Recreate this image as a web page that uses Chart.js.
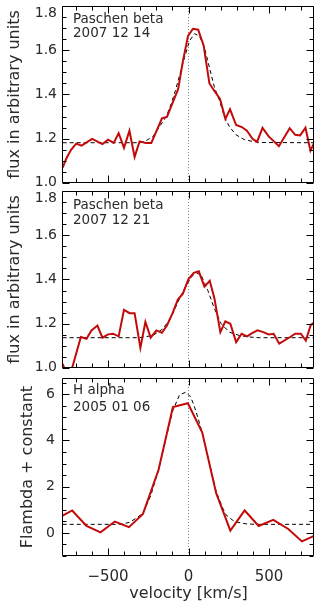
<!DOCTYPE html>
<html>
<head>
<meta charset="utf-8">
<script src="https://cdn.jsdelivr.net/npm/chart.js@4.4.1/dist/chart.umd.min.js"></script>
<style>
  html, body { margin: 0; padding: 0; background: #fff; }
  #wrap { position: relative; width: 315px; height: 606px; }
  .panel { position: absolute; left: 0; width: 315px; }
  canvas { display: block; }
</style>
</head>
<body>
<div id="wrap">
  <div class="panel" style="top:0"><canvas id="c1" width="315" height="187"></canvas></div>
  <div class="panel" style="top:187px"><canvas id="c2" width="315" height="185"></canvas></div>
  <div class="panel" style="top:372px"><canvas id="c3" width="315" height="234"></canvas></div>
</div>
<script>
// Paschen beta, 2007 12 14
const pb14Vel = [-782, -760, -730, -698, -665, -599, -535, -500, -465, -434, -401, -367, -335, -304, -266, -231,
  -165, -134, -97, -64, -35, -3, 28, 60, 94, 130, 161, 196, 229, 258, 296, 331, 363, 398, 426, 460, 497,
  562, 629, 663, 694, 727, 758, 781];
const pb14Flux = [1.07, 1.11, 1.15, 1.178, 1.169, 1.199, 1.176, 1.196, 1.181, 1.225, 1.159, 1.236, 1.118, 1.188, 1.181, 1.181,
  1.292, 1.299, 1.366, 1.425, 1.55, 1.665, 1.697, 1.693, 1.622, 1.45, 1.416, 1.38, 1.29, 1.333, 1.262, 1.253, 1.236, 1.2, 1.186, 1.249, 1.212,
  1.166, 1.248, 1.218, 1.215, 1.25, 1.146, 1.181];
const pb14FitVel = [-782, -300, -262, -221, -180, -138, -107, -81, -56, -25, 6, 37, 68, 99, 130, 161, 192, 223, 254, 295, 347, 398, 450, 781];
const pb14Fit = [1.182, 1.182, 1.192, 1.21, 1.255, 1.3, 1.359, 1.419, 1.485, 1.567, 1.642, 1.675, 1.664, 1.612, 1.522, 1.433, 1.374, 1.3, 1.255, 1.218, 1.196, 1.188, 1.183, 1.182];

// Paschen beta, 2007 12 21
const pb21Vel = [-782, -760, -735, -669, -634, -603, -566, -535, -500, -469, -434, -401, -366, -335, -299, -268, -235, -200,
  -165, -134, -101, -66, -35, 0, 33, 64, 99, 132, 161, 198, 229, 260, 296, 330, 364, 395, 429, 465, 498, 529, 564,
  632, 663, 698, 729, 760, 781];
const pb21Flux = [1.019, 0.975, 0.97, 1.14, 1.132, 1.17, 1.192, 1.137, 1.152, 1.155, 1.143, 1.263, 1.248, 1.248, 1.091, 1.208, 1.137, 1.17,
  1.159, 1.192, 1.245, 1.309, 1.336, 1.402, 1.43, 1.437, 1.368, 1.394, 1.315, 1.162, 1.211, 1.2, 1.117, 1.155, 1.143, 1.158, 1.17, 1.162, 1.152, 1.155, 1.11,
  1.14, 1.155, 1.155, 1.124, 1.195, 1.205];
const pb21FitVel = [-782, -304, -221, -159, -107, -66, -25, 17, 48, 79, 120, 161, 203, 254, 316, 378, 440, 781];
const pb21Fit = [1.137, 1.137, 1.147, 1.177, 1.23, 1.298, 1.358, 1.411, 1.431, 1.419, 1.351, 1.268, 1.2, 1.162, 1.147, 1.14, 1.137, 1.137];

// H alpha, 2005 01 06
const haVel = [-782, -723, -634, -547, -458, -370, -283, -186, -97, -4, 85, 172, 260, 349, 436, 527, 620, 705, 781];
const haFlux = [0.75, 0.97, 0.3, 0.02, 0.49, 0.25, 0.82, 2.73, 5.44, 5.61, 4.35, 1.72, 0.1, 0.97, 0.3, 0.56, 0.17, -0.37, -0.13];
const haFitVel = [-782, -450, -407, -366, -324, -283, -235, -186, -140, -97, -56, -19, 12, 33, 60, 89, 130, 172, 213, 233, 285, 357, 420, 781];
const haFit = [0.37, 0.37, 0.39, 0.46, 0.64, 0.85, 1.6, 2.73, 4.1, 5.3, 5.97, 6.08, 5.9, 5.54, 4.95, 4.24, 3.0, 1.79, 1.07, 0.78, 0.49, 0.39, 0.37, 0.37];

const fluxTicks = [1.0, 1.2, 1.4, 1.6, 1.8];
const haTicks = [0, 2, 4, 6];
const velTicks = [-500, 0, 500];

const FONT = "'DejaVu Sans', sans-serif";
const INK = '#2a2a2a';

// IDL style frame with inward ticks on all four sides
const frameTicks = {
  id: 'frameTicks',
  afterDatasetsDraw(chart, args, opts) {
    const {ctx, chartArea: a, scales: {x, y}} = chart;
    const L = Math.round(a.left) - 0.5, R = Math.round(a.right) - 0.5;
    const T = Math.round(a.top) + 0.5, B = Math.round(a.bottom) - 0.5;
    ctx.save();
    ctx.strokeStyle = '#000';
    ctx.lineWidth = 1;
    ctx.beginPath();
    ctx.rect(L, T, R - L, B - T);
    for (let i = Math.ceil(x.min / opts.xStep); i * opts.xStep <= x.max; i++) {
      const px = Math.round(x.getPixelForValue(i * opts.xStep)) + 0.5;
      const len = i % opts.xEvery === 0 ? 7 : 4;
      ctx.moveTo(px, B); ctx.lineTo(px, B - len);
      ctx.moveTo(px, T); ctx.lineTo(px, T + len);
    }
    for (let i = Math.ceil(y.min / opts.yStep - 1e-6); i * opts.yStep <= y.max + 1e-6; i++) {
      const py = Math.round(y.getPixelForValue(i * opts.yStep)) + 0.5;
      const len = i % opts.yEvery === 0 ? 7 : 4;
      ctx.moveTo(L, py); ctx.lineTo(L + len, py);
      ctx.moveTo(R, py); ctx.lineTo(R - len, py);
    }
    ctx.stroke();
    ctx.restore();
  }
};

// y tick labels (kept inside the panel height like IDL does) and the line/date note
const panelText = {
  id: 'panelText',
  afterDraw(chart, args, opts) {
    const {ctx, chartArea: a, scales: {y}} = chart;
    ctx.save();
    ctx.fillStyle = INK;
    ctx.textBaseline = 'middle';
    ctx.font = '14px ' + FONT;
    ctx.textAlign = 'right';
    y.ticks.forEach(t => {
      let py = y.getPixelForValue(t.value);
      py = Math.min(Math.max(py, a.top + 7), a.bottom - 1);
      ctx.fillText(opts.yLabel(t.value), a.left - opts.tickPad, py);
    });
    ctx.textAlign = 'left';
    ctx.font = '13.5px ' + FONT;
    opts.lines.forEach((t, i) => ctx.fillText(t, a.left + 10, a.top + opts.dy[i]));
    ctx.restore();
  }
};

function toXY(xs, ys) {
  return xs.map((v, i) => ({x: v, y: ys[i]}));
}

function makePanel(id, cfg) {
  return new Chart(document.getElementById(id), {
    type: 'line',
    data: {
      datasets: [
        { data: toXY(cfg.vel, cfg.flux), borderColor: '#c20a0a', borderWidth: 2, order: 0, clip: 0 },
        { data: toXY(cfg.fitVel, cfg.fit), borderColor: '#000', borderWidth: 1, borderDash: [4, 3], order: 1, clip: 0 },
        { data: [{x: 0, y: cfg.yMin}, {x: 0, y: cfg.yMax}], borderColor: '#8a8a8a', borderWidth: 1, borderDash: [1, 2], order: 2, clip: 0 }
      ]
    },
    options: {
      responsive: false,
      animation: false,
      events: [],
      layout: { padding: cfg.padding },
      elements: { point: { radius: 0 }, line: { tension: 0, fill: false } },
      plugins: {
        legend: { display: false },
        tooltip: { enabled: false },
        frameTicks: { xStep: 100, xEvery: 5, yStep: cfg.yStep, yEvery: 4 },
        panelText: { lines: cfg.lines, dy: cfg.textDy, yLabel: cfg.yLabel, tickPad: cfg.tickPad }
      },
      scales: {
        x: {
          type: 'linear',
          min: -780,
          max: 780,
          display: cfg.showX,
          afterBuildTicks: s => { s.ticks = velTicks.map(v => ({value: v})); },
          grid: { display: false, drawTicks: false },
          border: { display: false },
          ticks: {
            font: { family: FONT, size: 15 },
            color: INK,
            padding: 12,
            maxRotation: 0,
            autoSkip: false,
            callback: v => String(v).replace('-', '\u2212')
          },
          title: {
            display: cfg.showX,
            text: 'velocity [km/s]',
            font: { family: FONT, size: 16 },
            color: INK,
            padding: { top: 0, bottom: 3 }
          },
          afterFit: s => {
            if (cfg.showX) s.height = 50;
            s.paddingLeft = 0;
            s.paddingRight = 0;
          }
        },
        y: {
          type: 'linear',
          min: cfg.yMin,
          max: cfg.yMax,
          afterBuildTicks: s => { s.ticks = cfg.yTicks.map(v => ({value: v})); },
          grid: { display: false, drawTicks: false },
          border: { display: false },
          ticks: { display: false },
          title: {
            display: true,
            text: cfg.yTitle,
            font: { family: FONT, size: 16 },
            color: INK,
            padding: { top: cfg.titlePad, bottom: 0 }
          },
          afterFit: s => {
            s.width = 63;
            s.paddingTop = 0;
            s.paddingBottom = 0;
          }
        }
      }
    },
    plugins: [frameTicks, panelText]
  });
}

makePanel('c1', {
  vel: pb14Vel, flux: pb14Flux, fitVel: pb14FitVel, fit: pb14Fit,
  yMin: 1.0, yMax: 1.8, yStep: 0.05, yTicks: fluxTicks, yLabel: v => v.toFixed(1),
  yTitle: 'flux in arbitrary units', titlePad: 5, tickPad: 6,
  showX: false, padding: { top: 6, bottom: 4, left: 0, right: 1 },
  lines: ['Paschen beta', '2007 12 14'], textDy: [13, 27]
});

makePanel('c2', {
  vel: pb21Vel, flux: pb21Flux, fitVel: pb21FitVel, fit: pb21Fit,
  yMin: 1.0, yMax: 1.8, yStep: 0.05, yTicks: fluxTicks, yLabel: v => v.toFixed(1),
  yTitle: 'flux in arbitrary units', titlePad: 5, tickPad: 6,
  showX: false, padding: { top: 4, bottom: 4, left: 0, right: 1 },
  lines: ['Paschen beta', '2007 12 21'], textDy: [14, 29]
});

makePanel('c3', {
  vel: haVel, flux: haFlux, fitVel: haFitVel, fit: haFit,
  yMin: -1.0, yMax: 6.7, yStep: 0.5, yTicks: haTicks, yLabel: v => String(v),
  yTitle: 'Flambda + constant', titlePad: 18, tickPad: 8,
  showX: true, padding: { top: 6, bottom: 0, left: 0, right: 1 },
  lines: ['H alpha', '2005 01 06'], textDy: [12, 29]
});
</script>
</body>
</html>
